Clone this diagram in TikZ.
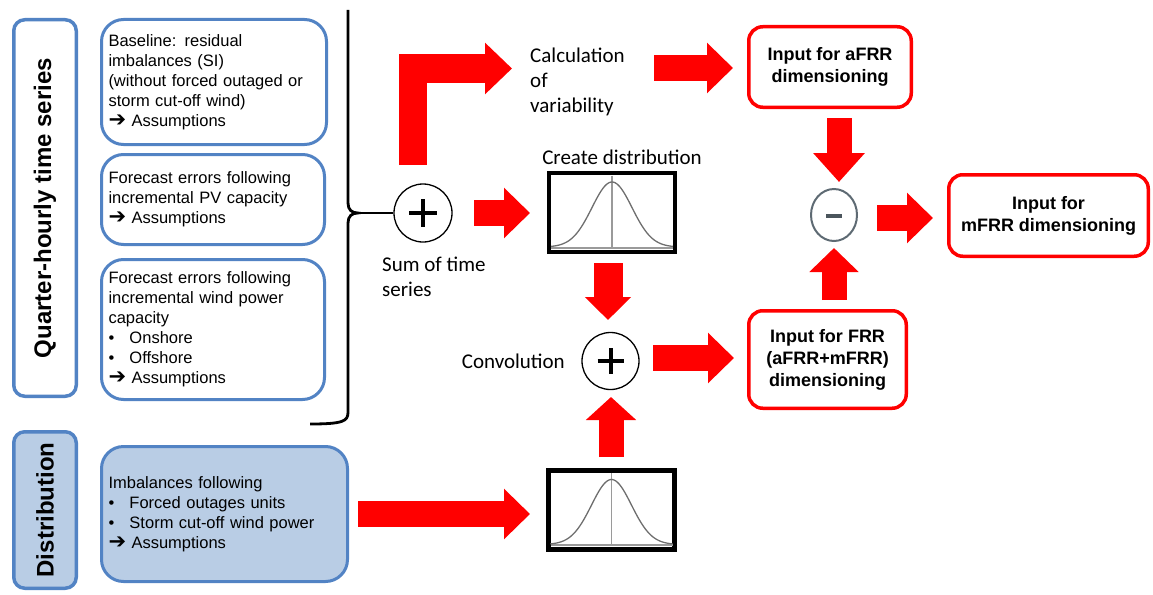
\documentclass[tikz,border=0pt]{standalone}
\usepackage{fontspec}
\setmainfont{Liberation Sans}
\newfontfamily\calfont{Carlito}
\newfontfamily\symfont{DejaVu Sans Bold}
\usetikzlibrary{arrows.meta,shapes.geometric,calc}

\definecolor{boxblue}{HTML}{5283C4}
\definecolor{boxfill}{HTML}{B9CDE5}
\definecolor{flowred}{HTML}{FF0000}
\definecolor{opgray}{HTML}{5E6A73}
\definecolor{curvegray}{HTML}{6E6E6E}
\definecolor{axisgray}{HTML}{9A9A9A}

\newcommand{\pointer}{\makebox[23pt][l]{\smash{\symfont\fontsize{21}{20}\selectfont ➔}}}
\newcommand{\bulletitem}{\makebox[21pt][l]{•}}

\tikzset{
  labelbox/.style={draw=boxblue, line width=3.5pt, rounded corners=11pt, inner sep=0pt,
    font=\fontsize{24}{28}\selectfont\bfseries},
  textbox/.style={draw=boxblue, line width=3pt, rounded corners=22pt, inner xsep=7pt,
    inner ysep=0pt, align=left, font=\fontsize{16.5}{20}\selectfont},
  resultbox/.style={draw=flowred, line width=3.5pt, rounded corners=14pt, align=center,
    inner sep=0pt, font=\fontsize{18}{22}\selectfont\bfseries},
  flow/.style={draw=flowred, line width=26pt, -{Triangle[width=49pt,length=26pt]}},
  sumnode/.style={circle, draw, line width=1.3pt, minimum size=58pt, inner sep=0pt},
  distbox/.style={draw, line width=4.5pt, minimum width=126pt, minimum height=79pt, inner sep=0pt},
  caption/.style={font=\calfont\fontsize{21}{25}\selectfont, inner sep=0pt},
}

\begin{document}
\begin{tikzpicture}[x=1pt,y=-1pt]
\useasboundingbox (0,0) rectangle (1153,594);

% ---- category labels
\node[labelbox, rotate=90, minimum width=376.5pt, minimum height=62.5pt] (qlabel) at (45,208)
  {Quarter-hourly time series};
\node[labelbox, fill=boxfill, rotate=90, minimum width=156.5pt, minimum height=62.5pt] (dlabel) at (45,510)
  {Distribution};

% ---- input boxes
\node[textbox, text width=211pt, minimum height=125pt] (base) at (214,82)
  {Baseline: residual\\imbalances (SI)\\(without forced outaged or\\storm cut-off wind)\\\pointer Assumptions};
\node[textbox, text width=209pt, minimum height=90pt] (pv) at (213,199.5)
  {Forecast errors following\\incremental PV capacity\\\pointer Assumptions};
\node[textbox, text width=209pt, minimum height=140pt] (wind) at (213,329.5)
  {Forecast errors following\\incremental wind power\\capacity\\\bulletitem Onshore\\\bulletitem Offshore\\\pointer Assumptions};
\node[textbox, fill=boxfill, text width=232pt, minimum height=135pt] (outage) at (224.5,514)
  {Imbalances following\\\bulletitem Forced outages units\\\bulletitem Storm cut-off wind power\\\pointer Assumptions};

% ---- brace grouping the time series
\coordinate (bracetip) at (358,213);
\draw[line width=2.8pt] (348,10) -- (348,203)
  .. controls (348,210) and (352,213) .. (bracetip)
  .. controls (352,213) and (348,216) .. (348,223) -- (348,412)
  .. controls (348,421) and (344,424) .. (310,424);

% ---- operators
\node[sumnode] (sum) at (423,213) {};
\draw[line width=4pt] ($(sum.center)+(-14,0)$) -- ($(sum.center)+(14,0)$)
                      ($(sum.center)+(0,-14)$) -- ($(sum.center)+(0,14)$);
\node[sumnode, minimum size=57pt] (conv) at (610.5,361) {};
\draw[line width=4pt] ($(conv.center)+(-13,0)$) -- ($(conv.center)+(13,0)$)
                      ($(conv.center)+(0,-13)$) -- ($(conv.center)+(0,13)$);
\node[ellipse, draw=opgray, line width=2pt, minimum width=46pt, minimum height=52pt, inner sep=0pt]
  (minus) at (834,215) {};
\draw[line width=4.5pt, opgray!80!black] ($(minus.center)+(-8,1)$) -- ($(minus.center)+(8,1)$);

\draw[line width=2pt] (bracetip) -- (sum.west);

% ---- distribution plots
\node[distbox] (dist1) at (612,212.5) {};
\node[distbox] (dist2) at (611.5,510) {};
\foreach \d in {dist1,dist2}{
  \begin{scope}[shift={(\d.center)}]
    \draw[axisgray, line width=2pt] (-61,35) -- (61,35);
    \draw[axisgray, line width=1.2pt] (0,-37) -- (0,35);
    \draw[curvegray, line width=1.3pt] plot[domain=-61:61, samples=81, smooth]
      (\x, {34.5 - 65*exp(-(\x*\x)/800)});
  \end{scope}
}

% ---- captions
\node[caption, align=left, anchor=west] (calc) at (530,82) {Calculation\\of\\variability};
\node[caption] (createlbl) at (622,157) {Create distribution};
\node[caption, align=left, anchor=west] (sumlbl) at (382,277) {Sum of time\\series};
\node[caption, anchor=east] (convlbl) at (565,361) {Convolution};

% ---- results
\node[resultbox, minimum width=162.5pt, minimum height=80.5pt] (afrr) at (830,67)
  {Input for aFRR\\dimensioning};
\node[resultbox, minimum width=157.5pt, minimum height=97.5pt] (frr) at (827.5,359.5)
  {Input for FRR\\(aFRR+mFRR)\\dimensioning};
\node[resultbox, minimum width=199.5pt, minimum height=81.5pt] (mfrr) at (1048.5,215.5)
  {Input for\\mFRR dimensioning};

% ---- flow arrows
\coordinate (varfrom) at (413,165);  \coordinate (varto) at (512,68.5);
\coordinate (calcfrom) at (654,68);  \coordinate (calcto) at (733,68);
\coordinate (sumfrom) at (474,213);  \coordinate (sumto) at (530,213);
\coordinate (d1from) at (608,263);   \coordinate (d1to) at (608,320);
\coordinate (d2from) at (611,457);   \coordinate (d2to) at (611,397);
\coordinate (convfrom) at (653,358); \coordinate (convto) at (734,358);
\coordinate (afrrfrom) at (839,118); \coordinate (afrrto) at (839,182);
\coordinate (frrfrom) at (834,300);  \coordinate (frrto) at (834,248);
\coordinate (minfrom) at (877,218);  \coordinate (minto) at (933,218);
\coordinate (outfrom) at (358,514);  \coordinate (outto) at (530,514);

\draw[flow, line width=28pt, -{Triangle[width=50pt,length=27pt]}] (varfrom) |- (varto);
\draw[flow] (calcfrom) -- (calcto);
\draw[flow] (sumfrom) -- (sumto);
\draw[flow, line width=29pt, -{Triangle[width=45pt,length=23pt]}] (d1from) -- (d1to);
\draw[flow, line width=25pt, -{Triangle[width=49pt,length=23pt]}] (d2from) -- (d2to);
\draw[flow] (convfrom) -- (convto);
\draw[flow, line width=25pt, -{Triangle[width=50pt,length=29pt]}] (afrrfrom) -- (afrrto);
\draw[flow, line width=25pt, -{Triangle[width=48pt,length=24pt]}] (frrfrom) -- (frrto);
\draw[flow] (minfrom) -- (minto);
\draw[flow] (outfrom) -- (outto);
\end{tikzpicture}
\end{document}
